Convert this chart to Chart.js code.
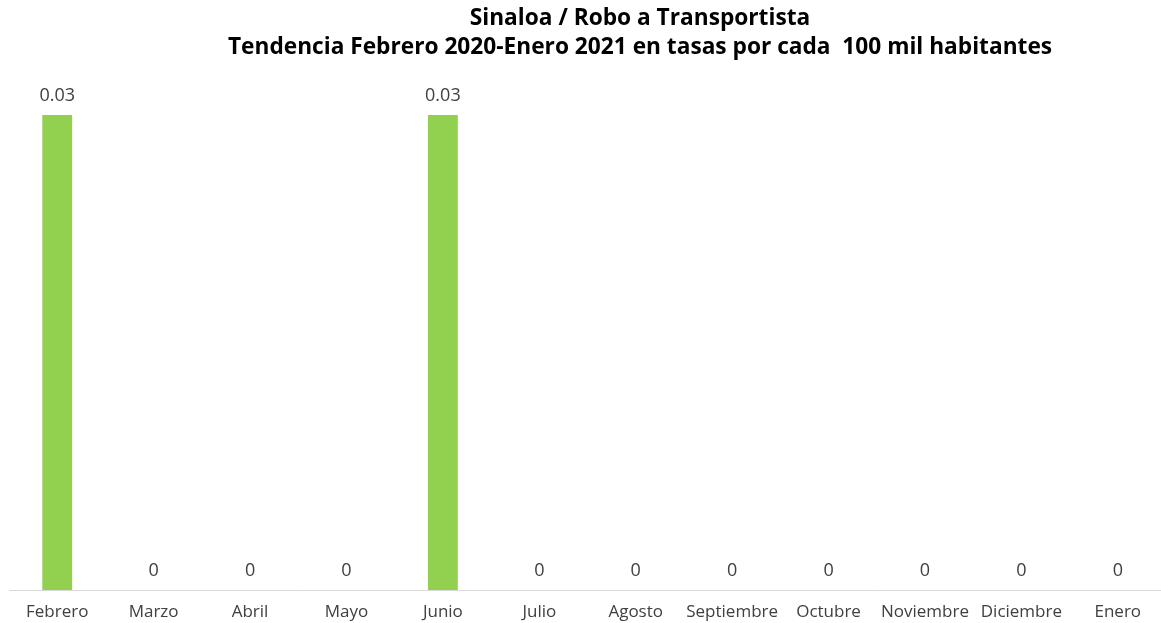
<!DOCTYPE html>
<html><head><meta charset="utf-8">
<script src="https://cdn.jsdelivr.net/npm/chart.js@4"></script>
<style>html,body{margin:0;padding:0;overflow:hidden;background:#fff}#wrap{width:1166px;height:623px;position:relative}</style>
</head><body><div id="wrap"><canvas id="c"></canvas></div>
<script>
const titleLines = ["Sinaloa / Robo a Transportista", "Tendencia Febrero 2020-Enero 2021 en tasas por cada  100 mil habitantes"];
const categories = ["Febrero","Marzo","Abril","Mayo","Junio","Julio","Agosto","Septiembre","Octubre","Noviembre","Diciembre","Enero"];
const values = [0.03,0,0,0,0.03,0,0,0,0,0,0,0];
const valueLabels = ["0.03","0","0","0","0.03","0","0","0","0","0","0","0"];

const customText = {
  id:'customText',
  afterDatasetsDraw(chart){
    const ctx = chart.ctx;
    ctx.save();
    ctx.fillStyle = '#000';
    ctx.font = 'bold 22.7px "Open Sans"';
    ctx.textAlign = 'center';
    ctx.textBaseline = 'middle';
    ctx.fillText(titleLines[0], 640, 19);
    ctx.fillText(titleLines[1], 640, 48);
    const meta = chart.getDatasetMeta(0);
    ctx.font = '18px "Open Sans"';
    ctx.fillStyle = '#404040';
    meta.data.forEach((bar,i)=>{
      ctx.fillText(valueLabels[i], bar.x, bar.y - 19);
    });
    ctx.restore();
  }
};

new Chart(document.getElementById('c'), {
  type:'bar',
  data:{labels:categories, datasets:[{data:values, backgroundColor:'#92D050', barPercentage:0.31, categoryPercentage:1}]},
  options:{
    responsive:true, maintainAspectRatio:false, animation:false,
    layout:{padding:{top:115,left:9,right:0,bottom:0}},
    plugins:{legend:{display:false}, tooltip:{enabled:false}, title:{display:false}},
    scales:{
      x:{grid:{display:false, drawTicks:false}, border:{display:true,color:'#d9d9d9',width:1},
         ticks:{padding:12, color:'#404040', font:{family:'"Open Sans"', size:17}, maxRotation:0, autoSkip:false},
         afterFit(s){ s.height = 33; }},
      y:{display:false, min:0, max:0.03}
    }
  },
  plugins:[customText]
});
</script></body></html>
